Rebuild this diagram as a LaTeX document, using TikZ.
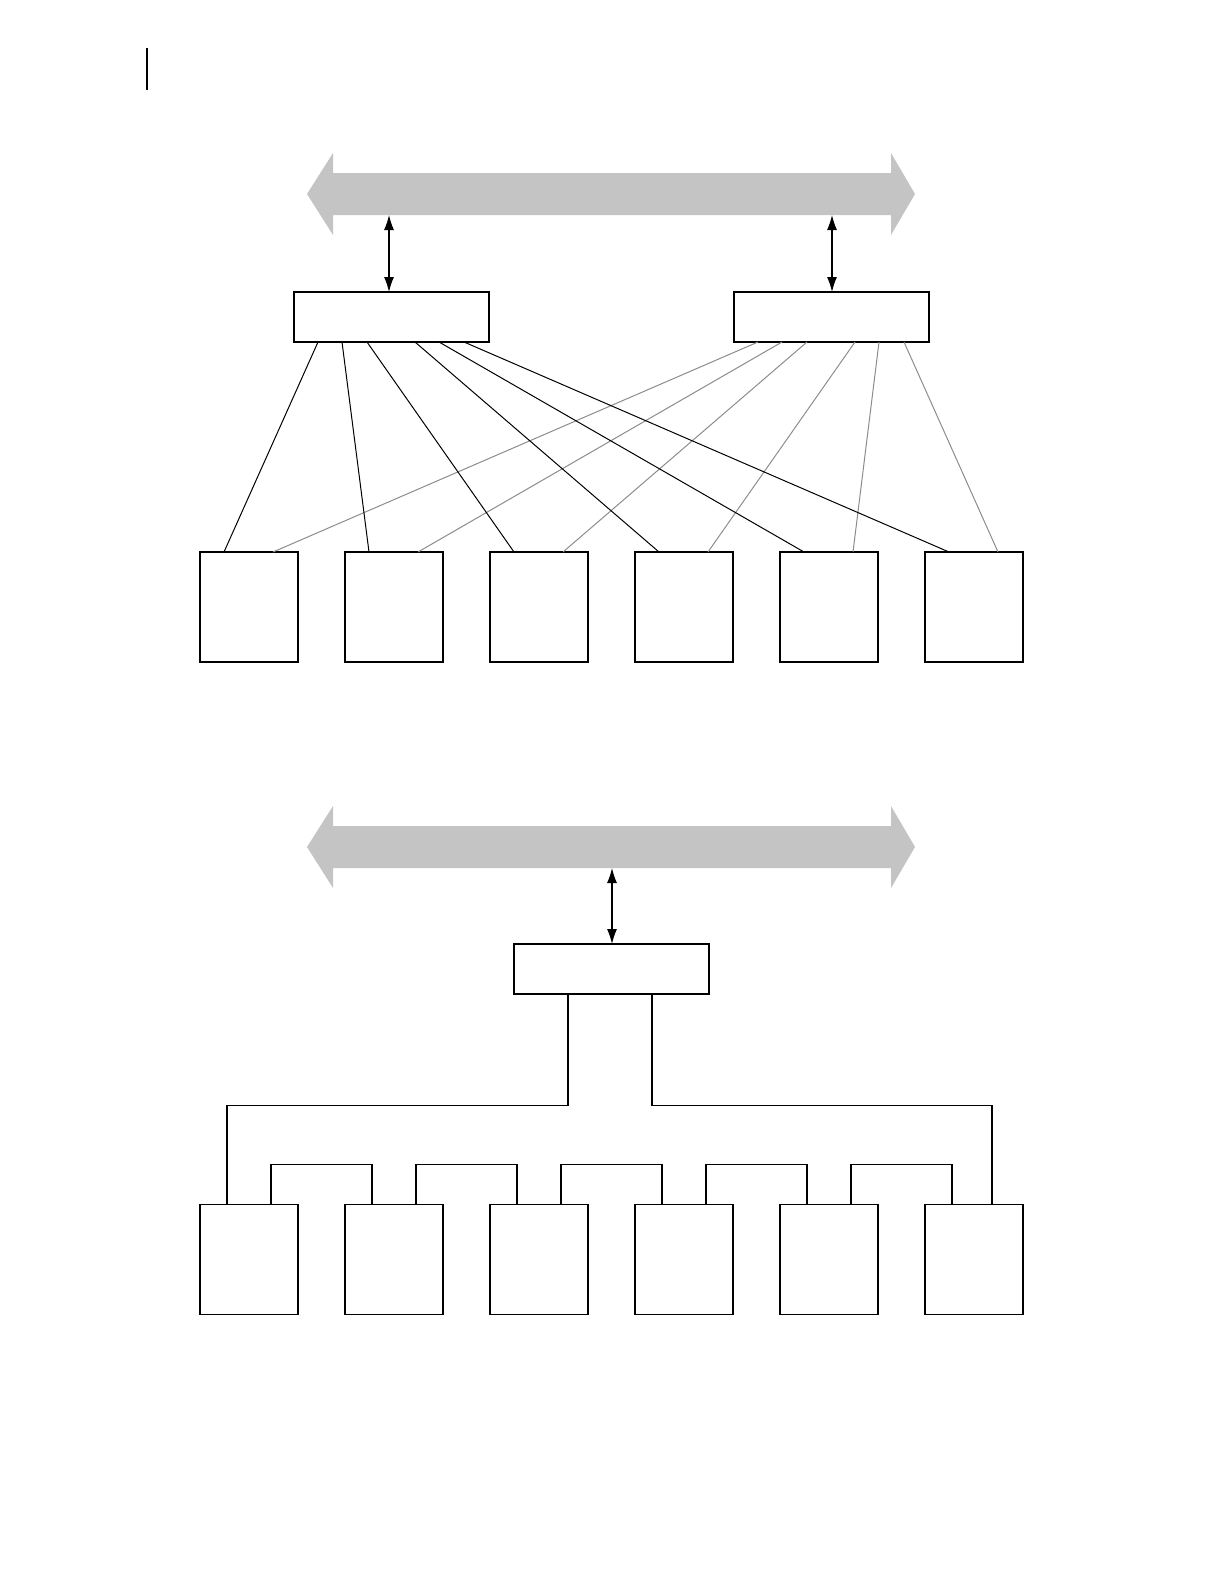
\documentclass[tikz,border=0pt]{standalone}
\usepackage{tikz}
\usetikzlibrary{arrows.meta,calc}
\definecolor{busgray}{RGB}{196,196,196}
\definecolor{linegray}{RGB}{140,140,140}

\begin{document}
\begin{tikzpicture}[
  x=0.5pt, y=-0.5pt,
  ctrl/.style={draw, line width=0.6pt, minimum width=97.5pt, minimum height=25pt, inner sep=0pt, outer sep=0pt},
  unit/.style={draw, line width=0.6pt, minimum width=49pt, minimum height=55pt, inner sep=0pt, outer sep=0pt},
  link/.style={line width=0.5pt},
  glink/.style={line width=0.5pt, draw=linegray},
  wire/.style={line width=0.6pt},
  dbl/.style={{Latex[length=7.5pt,width=5pt]}-{Latex[length=7.5pt,width=5pt]}, line width=0.6pt},
  bus/.style={fill=busgray}
]
\useasboundingbox (0,0) rectangle (1222,1584);

% ---- margin mark ----
\draw[line width=0.9pt] (147,48) -- (147,90);

% ---- buses ----
\foreach \dy in {0,653} {
  \fill[bus, shift={(0,\dy)}] (307,194) -- (333,153) -- (333,173) -- (891,173) -- (891,153)
    -- (915,194) -- (891,235) -- (891,215) -- (333,215) -- (333,235) -- cycle;
}
\coordinate (pa) at (389,215);
\coordinate (pb) at (832,215);
\coordinate (pc) at (612,868);

% ---- upper: two controllers, six units ----
\node[ctrl] (ctlA) at (391.5,317) {};
\node[ctrl] (ctlB) at (831.5,317) {};
\foreach \i in {1,...,6}
  \node[unit] (u\i) at ({249+145*(\i-1)},607) {};

\foreach \i/\o in {1/24,2/48,3/73,4/121,5/145,6/170}
  \draw[glink] ($(ctlB.south west)+(\o,0)$) -- ($(u\i.north west)+(73,0)$);
\foreach \i/\o in {1/24,2/48,3/73,4/121,5/145,6/170}
  \draw[link] ($(ctlA.south west)+(\o,0)$) -- ($(u\i.north west)+(24,0)$);

\draw[dbl] (pa) -- (pa |- ctlA.north);
\draw[dbl] (pb) -- (pb |- ctlB.north);

% ---- lower: one controller, daisy chain ----
\node[ctrl] (hub) at (611.5,969) {};
\foreach \i in {1,...,6}
  \node[unit] (v\i) at ({249+145*(\i-1)},1259.5) {};

\draw[dbl] (pc) -- (pc |- hub.north);

\draw[wire] ($(hub.south west)+(54,0)$) |- ($(v1.north west)+(27,-99)$) -- ($(v1.north west)+(27,0)$);
\draw[wire] ($(hub.south west)+(138,0)$) |- ($(v6.north west)+(67,-99)$) -- ($(v6.north west)+(67,0)$);
\foreach \i/\j in {1/2,2/3,3/4,4/5,5/6}
  \draw[wire] ($(v\i.north west)+(71,0)$) -- ++(0,-40) -| ($(v\j.north west)+(27,0)$);
\end{tikzpicture}
\end{document}
